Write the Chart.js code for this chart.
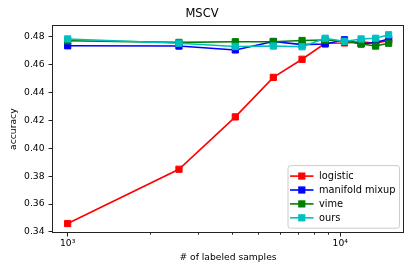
<!DOCTYPE html>
<html>
<head>
<meta charset="utf-8">
<script src="https://cdn.jsdelivr.net/npm/chart.js@4/dist/chart.umd.min.js"></script>
<style>
  html, body { margin: 0; padding: 0; background: #ffffff; }
  #wrap { width: 415px; height: 277px; }
</style>
</head>
<body>
<div id="wrap"><canvas id="c" width="415" height="277"></canvas></div>
<script>
// ---- data ----
const samples = [1000, 2560, 4120, 5680, 7240, 8800, 10360, 11920, 13480, 15040];
const logistic = [0.346, 0.385, 0.4226, 0.451, 0.464, 0.4755, 0.4757, 0.4765, 0.4755, 0.4775];
const manifoldMixup = [0.4737, 0.4735, 0.4707, 0.4768, 0.4745, 0.4750, 0.4780, 0.4750, 0.4760, 0.4785];
const vime = [0.4773, 0.4761, 0.4766, 0.4766, 0.4775, 0.4778, 0.4771, 0.4750, 0.4735, 0.4755];
const ours = [0.4786, 0.4755, 0.4732, 0.4735, 0.4730, 0.4791, 0.4768, 0.4786, 0.4791, 0.4816];

const seriesNames = ['logistic', 'manifold mixup', 'vime', 'ours'];
const yTickValues = [0.34, 0.36, 0.38, 0.40, 0.42, 0.44, 0.46, 0.48];
const xMajorTicks = [1000, 10000];
const xMajorLabels = ['10\u00b3', '10\u2074'];
const xMinorTicks = [2000, 3000, 4000, 5000, 6000, 7000, 8000, 9000];

const FONT = 'DejaVu Sans';
const colors = ['#ff0000', '#0000ff', '#008000', '#00bfbf'];
const seriesValues = [logistic, manifoldMixup, vime, ours];

const datasets = seriesValues.map((vals, k) => ({
  label: seriesNames[k],
  data: samples.map((x, i) => ({ x: x, y: vals[i] })),
  borderColor: colors[k],
  backgroundColor: colors[k],
  borderWidth: 1.6,
  pointStyle: 'rect',
  pointRadius: 4.4,
  pointBorderWidth: 1,
  pointBorderColor: colors[k],
  pointBackgroundColor: colors[k],
  tension: 0,
  order: seriesValues.length - k
}));

const framePlugin = {
  id: 'frame',
  afterDatasetsDraw(chart) {
    const { ctx, chartArea: a } = chart;
    ctx.save();
    ctx.strokeStyle = '#222';
    ctx.lineWidth = 1;
    const l = Math.round(a.left) + 0.5, r = Math.round(a.right) - 0.5;
    const t = Math.round(a.top) + 0.5, b = Math.round(a.bottom) - 0.5;
    ctx.strokeRect(l, t, r - l, b - t);
    // minor ticks on log x axis
    const xs = chart.scales.x;
    ctx.beginPath();
    xMinorTicks.forEach(v => {
      const px = Math.round(xs.getPixelForValue(v)) + 0.5;
      ctx.moveTo(px, b);
      ctx.lineTo(px, b + 2.2);
    });
    ctx.stroke();
    ctx.restore();
  }
};

const legendPlugin = {
  id: 'innerLegend',
  afterDraw(chart) {
    const { ctx, chartArea: a } = chart;
    ctx.save();
    ctx.font = '9.8px "' + FONT + '"';
    const ds = chart.data.datasets;
    let maxW = 0;
    ds.forEach(d => { maxW = Math.max(maxW, ctx.measureText(d.label).width); });
    const rowH = 13.9;
    const w = 31 + maxW + 4;
    const h = 8 + rowH * ds.length - 1;
    const right = a.right - 4.5, bottom = a.bottom - 4.8;
    const left = right - w, top = bottom - h;
    const rad = 2.5;
    ctx.beginPath();
    ctx.moveTo(left + rad, top);
    ctx.lineTo(right - rad, top);
    ctx.quadraticCurveTo(right, top, right, top + rad);
    ctx.lineTo(right, bottom - rad);
    ctx.quadraticCurveTo(right, bottom, right - rad, bottom);
    ctx.lineTo(left + rad, bottom);
    ctx.quadraticCurveTo(left, bottom, left, bottom - rad);
    ctx.lineTo(left, top + rad);
    ctx.quadraticCurveTo(left, top, left + rad, top);
    ctx.closePath();
    ctx.fillStyle = 'rgba(255,255,255,0.8)';
    ctx.fill();
    ctx.strokeStyle = '#cccccc';
    ctx.lineWidth = 1;
    ctx.stroke();
    ds.forEach((d, i) => {
      const cy = top + 10.5 + i * rowH;
      ctx.strokeStyle = d.borderColor;
      ctx.lineWidth = 1.6;
      ctx.beginPath();
      ctx.moveTo(left + 2, cy);
      ctx.lineTo(left + 25.5, cy);
      ctx.stroke();
      ctx.fillStyle = d.borderColor;
      ctx.fillRect(left + 13.75 - 3.6, cy - 3.6, 7.2, 7.2);
      ctx.fillStyle = '#000';
      ctx.textBaseline = 'middle';
      ctx.textAlign = 'left';
      ctx.fillText(d.label, left + 31, cy + 0.5);
    });
    ctx.restore();
  }
};

new Chart(document.getElementById('c'), {
  type: 'line',
  data: { datasets: datasets },
  options: {
    responsive: false,
    animation: false,
    devicePixelRatio: 1,
    layout: { padding: { left: 0, right: 11, top: 0, bottom: 0 } },
    plugins: {
      legend: { display: false },
      tooltip: { enabled: false },
      title: {
        display: true,
        text: 'MSCV',
        color: '#000',
        font: { family: FONT, size: 11.5, weight: 'normal' },
        padding: { top: 7.5, bottom: 4 }
      }
    },
    scales: {
      x: {
        type: 'logarithmic',
        min: 876,
        max: 17127,
        afterFit(scale) { scale.height = 44; },
        afterBuildTicks(scale) {
          scale.ticks = xMajorTicks.map(v => ({ value: v, major: true }));
        },
        border: { display: false },
        grid: { display: true, drawOnChartArea: false, drawTicks: true, tickLength: 3.5, tickColor: '#222', tickWidth: 1 },
        ticks: {
          color: '#000',
          font: { family: FONT, size: 9.2 },
          padding: 2,
          maxRotation: 0,
          autoSkip: false,
          callback(value) {
            const idx = xMajorTicks.indexOf(value);
            return idx >= 0 ? xMajorLabels[idx] : '';
          }
        },
        title: {
          display: true,
          text: '# of labeled samples',
          color: '#000',
          font: { family: FONT, size: 9.2 },
          padding: { top: 4, bottom: 13.5 }
        }
      },
      y: {
        type: 'linear',
        min: 0.3392,
        max: 0.4884,
        afterFit(scale) { scale.width = 52; },
        afterBuildTicks(scale) {
          scale.ticks = yTickValues.map(v => ({ value: v }));
        },
        border: { display: false },
        grid: { display: true, drawOnChartArea: false, drawTicks: true, tickLength: 3.5, tickColor: '#222', tickWidth: 1 },
        ticks: {
          color: '#000',
          font: { family: FONT, size: 9.2 },
          padding: 4,
          autoSkip: false,
          callback(value) { return Number(value).toFixed(2); }
        },
        title: {
          display: true,
          text: 'accuracy',
          color: '#000',
          font: { family: FONT, size: 9.2 },
          padding: { top: 8, bottom: 0 }
        }
      }
    }
  },
  plugins: [framePlugin, legendPlugin]
});
</script>
</body>
</html>
